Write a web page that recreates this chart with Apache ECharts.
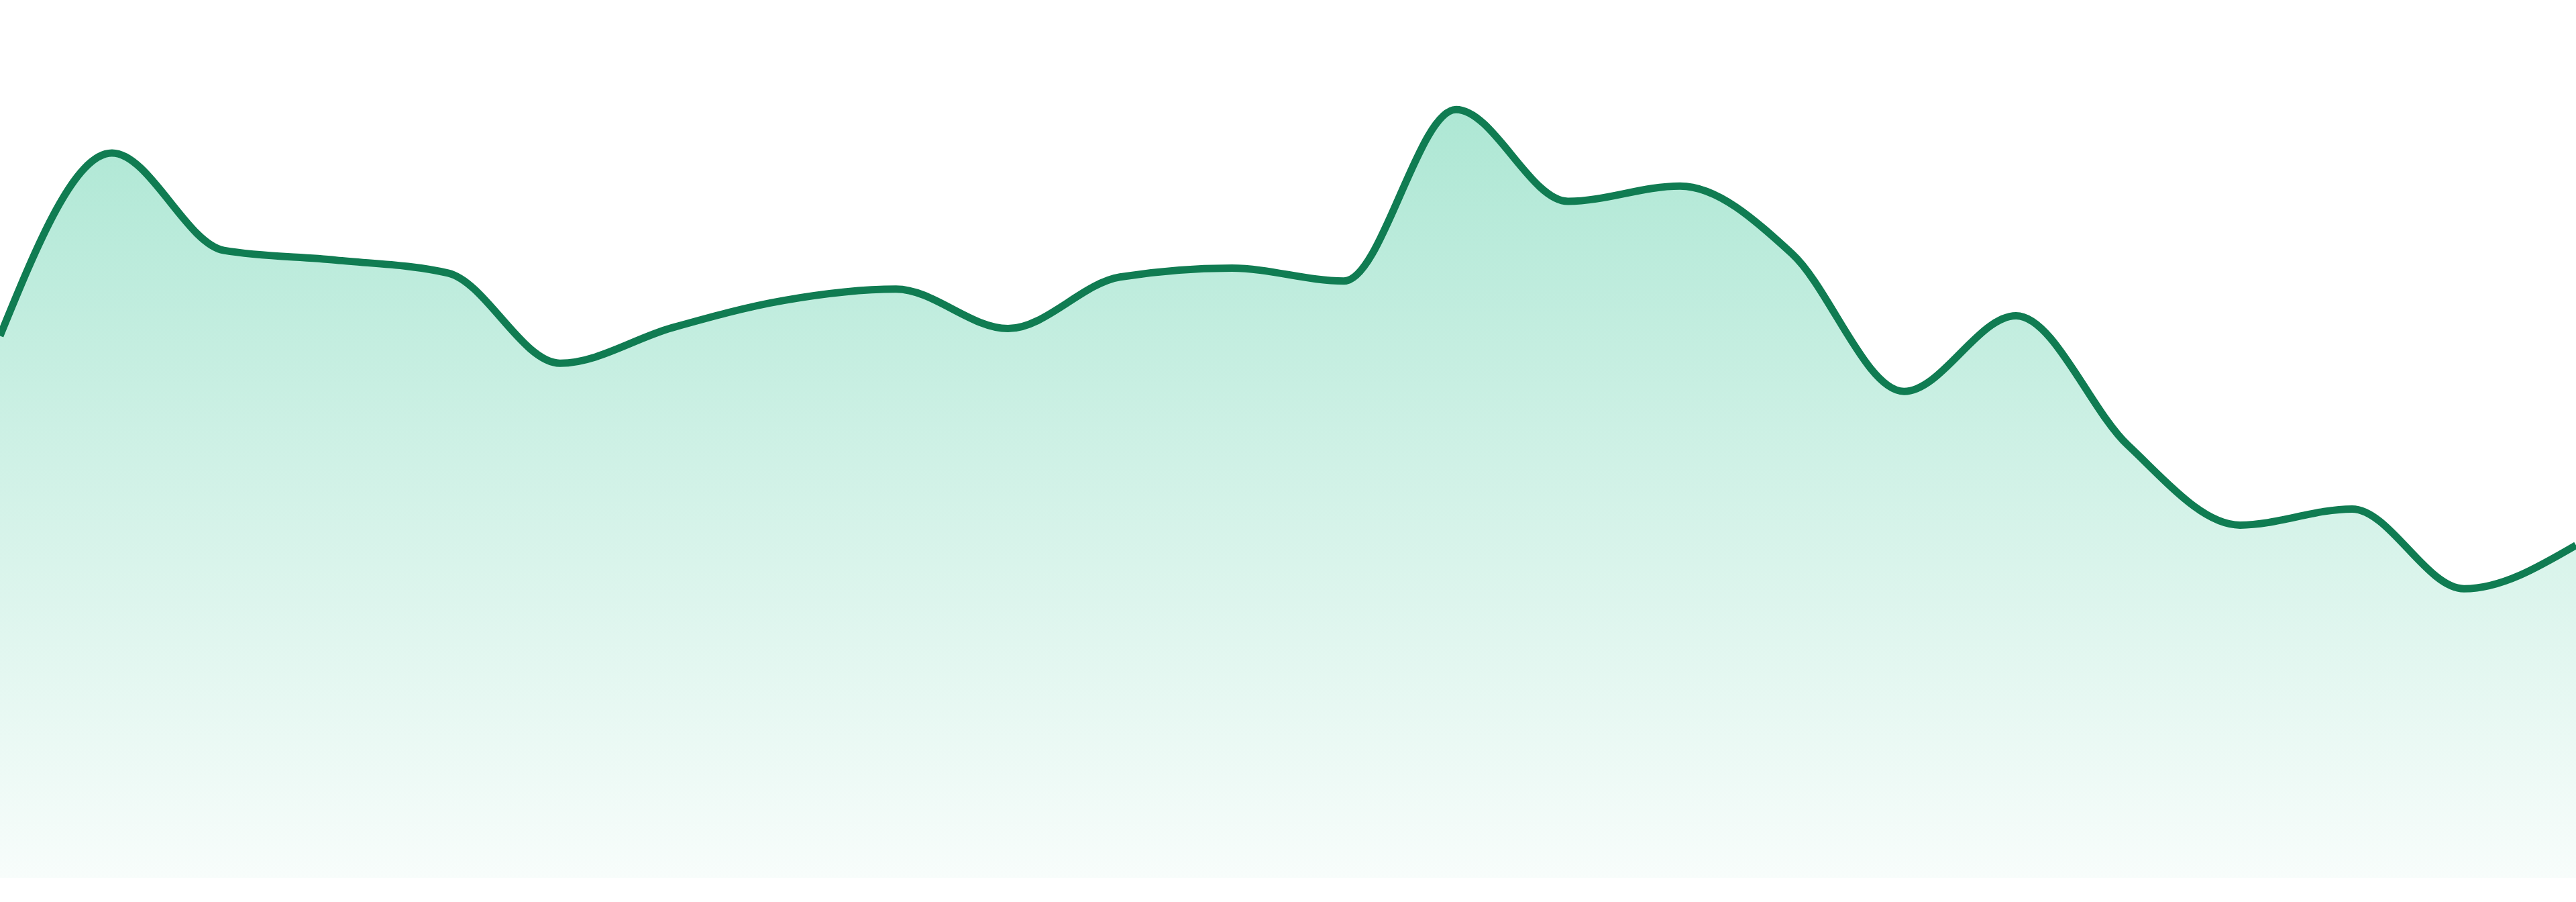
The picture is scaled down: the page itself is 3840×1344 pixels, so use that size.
<!DOCTYPE html>
<html>
<head>
<meta charset="utf-8">
<script src="https://cdn.jsdelivr.net/npm/echarts@6/dist/echarts.min.js"></script>
<style>
html,body{margin:0;padding:0;background:#ffffff;}
#chart{width:3840px;height:1344px;}
</style>
</head>
<body>
<div id="chart"></div>
<script>
const categories = ['1','2','3','4','5','6','7','8','9','10','11','12','13','14','15','16','17','18','19','20','21','22','23','24'];
const values = [67.3, 90.0, 77.9, 76.7, 75.1, 63.9, 68.3, 71.7, 73.1, 68.2, 74.6, 75.7, 74.1, 95.4, 84.0, 85.9, 77.5, 60.4, 69.8, 53.7, 43.8, 45.8, 35.9, 41.3];

const LINE_COLOR = '#107c52';

// monotone-x cubic tangents (pixel space)
function monoTangents(pts) {
  const n = pts.length, t = new Array(n), s = [], h = [];
  for (let i = 0; i < n - 1; i++) {
    h[i] = pts[i + 1][0] - pts[i][0];
    s[i] = (pts[i + 1][1] - pts[i][1]) / h[i];
  }
  for (let i = 1; i < n - 1; i++) {
    const s0 = s[i - 1], s1 = s[i], h0 = h[i - 1], h1 = h[i];
    const p = (s0 * h1 + s1 * h0) / (h0 + h1);
    t[i] = (Math.sign(s0) + Math.sign(s1)) * Math.min(Math.abs(s0), Math.abs(s1), 0.5 * Math.abs(p)) || 0;
  }
  t[0] = (3 * s[0] - t[1]) / 2;
  t[n - 1] = (3 * s[n - 2] - t[n - 2]) / 2;
  return t;
}

function curvePath(pts) {
  const t = monoTangents(pts);
  let d = 'M' + pts[0][0] + ',' + pts[0][1];
  for (let i = 0; i < pts.length - 1; i++) {
    const a = pts[i], b = pts[i + 1], dx = (b[0] - a[0]) / 3;
    d += 'C' + (a[0] + dx) + ',' + (a[1] + dx * t[i]) + ',' +
         (b[0] - dx) + ',' + (b[1] - dx * t[i + 1]) + ',' + b[0] + ',' + b[1];
  }
  return d;
}

const chart = echarts.init(document.getElementById('chart'), null, {renderer: 'canvas'});
chart.setOption({
  animation: false,
  backgroundColor: '#ffffff',
  grid: {left: 0, right: 0, top: 108, bottom: 36, containLabel: false},
  xAxis: {
    type: 'category',
    data: categories,
    boundaryGap: false,
    show: false
  },
  yAxis: {
    type: 'value',
    min: 0,
    max: 100,
    show: false
  },
  series: [{
    type: 'custom',
    data: values.map((v, i) => [i, v]),
    encode: {x: 0, y: 1},
    clip: true,
    renderItem: function (params, api) {
      if (params.dataIndex !== 0) return null;
      const pts = values.map((v, i) => api.coord([i, v]));
      const base = api.coord([0, 0])[1];
      const line = curvePath(pts);
      const last = pts[pts.length - 1];
      const area = line + 'L' + last[0] + ',' + base + 'L' + pts[0][0] + ',' + base + 'Z';
      return {
        type: 'group',
        children: [{
          type: 'path',
          shape: {pathData: area},
          style: {
            fill: new echarts.graphic.LinearGradient(0, 0, 0, 1, [
              {offset: 0, color: 'rgba(16,185,129,0.34)'},
              {offset: 1, color: 'rgba(16,185,129,0.03)'}
            ]),
            stroke: null
          }
        }, {
          type: 'path',
          shape: {pathData: line},
          style: {fill: null, stroke: LINE_COLOR, lineWidth: 11, lineJoin: 'round', lineCap: 'butt'}
        }]
      };
    }
  }]
});
</script>
</body>
</html>
